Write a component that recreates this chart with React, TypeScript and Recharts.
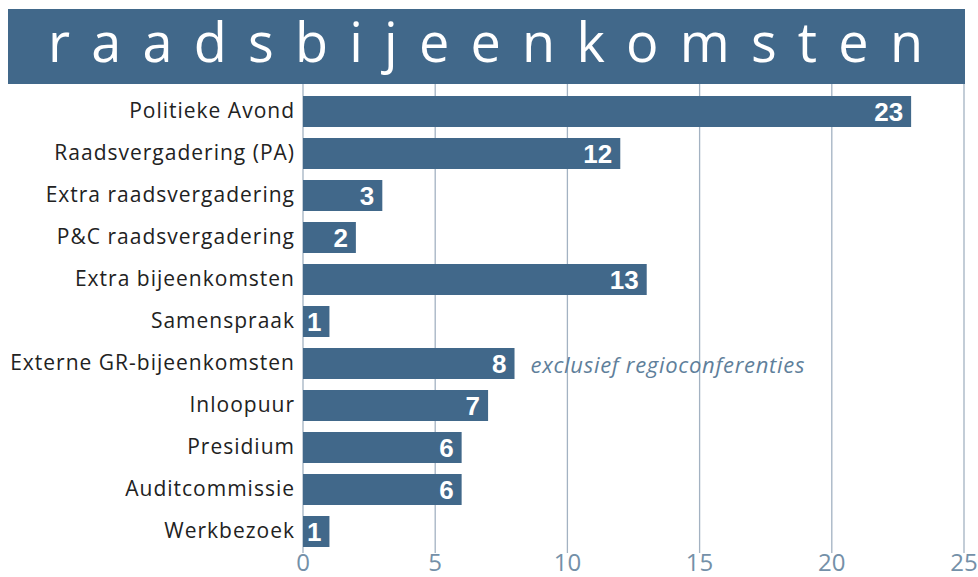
import React from 'react';
import { Bar, BarChart, CartesianGrid, LabelList, XAxis, YAxis } from 'recharts';

const categories = [
  'Politieke Avond',
  'Raadsvergadering (PA)',
  'Extra raadsvergadering',
  'P&C raadsvergadering',
  'Extra bijeenkomsten',
  'Samenspraak',
  'Externe GR-bijeenkomsten',
  'Inloopuur',
  'Presidium',
  'Auditcommissie',
  'Werkbezoek',
];
const counts = [23, 12, 3, 2, 13, 1, 8, 7, 6, 6, 1];
const xTicks = [0, 5, 10, 15, 20, 25];
const title = 'raadsbijeenkomsten';
const noteCategory = 'Externe GR-bijeenkomsten';
const noteText = 'exclusief regioconferenties';

const BLUE = '#41688a';
const GRID = '#a3b2c2';
const TICK = '#7490a8';

const data = categories.map((c, i) => ({ name: c, value: counts[i] }));

function ValueLabel(props: any) {
  const x = Number(props.x) || 0;
  const y = Number(props.y) || 0;
  const w = Number(props.width) || 0;
  const h = Number(props.height) || 0;
  const idx = props.index as number;
  const cy = y + h / 2;
  return (
    <g>
      <text
        x={x + w - 8}
        y={cy}
        textAnchor="end"
        dominantBaseline="central"
        fill="#ffffff"
        fontFamily="'Liberation Sans', Arial, sans-serif"
        fontWeight="700"
        fontSize={26}
      >
        {props.value}
      </text>
      {categories[idx] === noteCategory ? (
        <text
          x={x + w + 16}
          y={cy}
          dominantBaseline="central"
          fill="#5f7f9b"
          fontFamily="'Open Sans', sans-serif"
          fontStyle="italic"
          fontSize={22}
          letterSpacing={0.7}
        >
          {noteText}
        </text>
      ) : null}
    </g>
  );
}

export default function App() {
  return (
    <div style={{ position: 'fixed', left: 0, top: 0, width: 978, height: 577, background: '#fff' }}>
      <div style={{ position: 'absolute', left: 8, top: 9, width: 957, height: 75, background: BLUE }}>
        <svg width={957} height={75} style={{ overflow: 'visible' }}>
          <text
            x={40}
            y={53}
            textLength={875}
            lengthAdjust="spacing"
            fill="#ffffff"
            fontFamily="'Open Sans', sans-serif"
            fontWeight={400}
            fontSize={54}
          >
            {title}
          </text>
        </svg>
      </div>
      <BarChart
        width={978}
        height={577}
        data={data}
        layout="vertical"
        margin={{ top: 84, right: 14, bottom: 0, left: 0 }}
        barCategoryGap={11}
        style={{ overflow: 'visible' }}
      >
        <CartesianGrid horizontal={false} vertical stroke={GRID} strokeWidth={1.3} />
        <XAxis
          type="number"
          domain={[0, 25]}
          ticks={xTicks}
          axisLine={false}
          tickLine={false}
          height={24}
          tick={{ fill: TICK, fontSize: 24, fontFamily: "'Open Sans', sans-serif" }}
          tickMargin={-5}
          interval={0}
        />
        <YAxis
          type="category"
          dataKey="name"
          width={303}
          axisLine={false}
          tickLine={false}
          padding={{ top: 6, bottom: 1 }}
          interval={0}
          tickMargin={2}
          tick={{ fill: '#222222', fontSize: 21, fontFamily: "'Open Sans', sans-serif", letterSpacing: 1 } as any}
        />
        <Bar dataKey="value" fill={BLUE} isAnimationActive={false} barSize={31}>
          <LabelList dataKey="value" content={ValueLabel} />
        </Bar>
      </BarChart>
    </div>
  );
}
